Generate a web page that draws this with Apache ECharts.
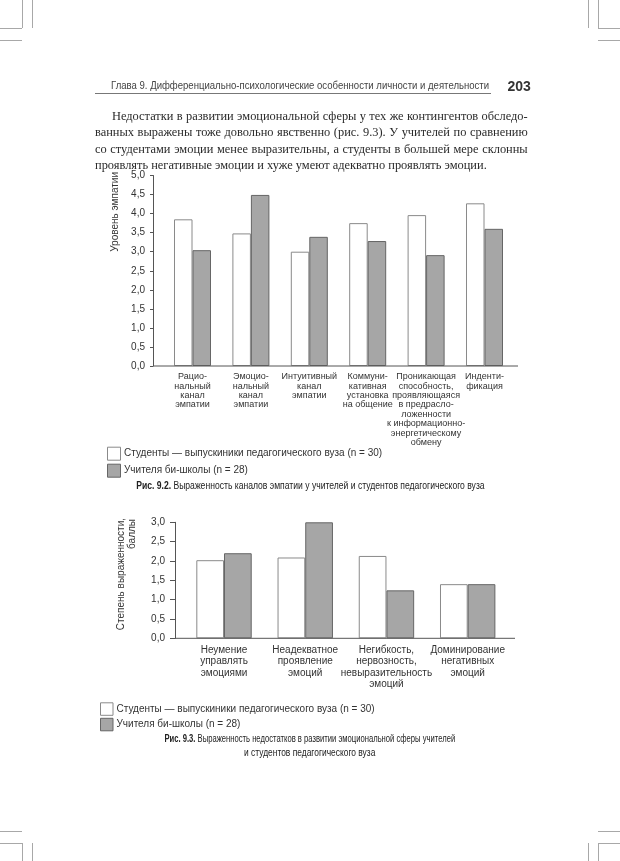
<!DOCTYPE html>
<html>
<head>
<meta charset="utf-8">
<script src="https://cdn.jsdelivr.net/npm/echarts@6/dist/echarts.min.js"></script>
<style>
  html, body { margin: 0; padding: 0; background: #fff; }
  #page { position: relative; width: 620px; height: 861px; overflow: hidden; background: #fff; }
  #chart { position: absolute; left: 0; top: 0; width: 620px; height: 861px; }
  .abs { position: absolute; }
  .crop { position: absolute; background: #a8a8a8; }
  .hdrbox { position: absolute; left: 111px; top: 80px; height: 12px; line-height: 12px; }
  .hdr { font-family: "Liberation Sans", Arial, sans-serif; font-size: 10px; line-height: 12px; color: #444; white-space: nowrap; display: inline-block; vertical-align: top; transform-origin: left center; }
  .pnum { font-family: "Liberation Sans", Arial, sans-serif; font-size: 14px; font-weight: bold; color: #333; }
  .para { font-family: "Liberation Serif", "Times New Roman", serif; font-size: 12.4px; line-height: 16.5px; color: #2a2a2a; width: 432.7px; }
  .para div { text-align: justify; text-align-last: justify; white-space: nowrap; }
  .para div.last { text-align-last: left; }
  .capline { position: absolute; left: 0; width: 620px; text-align: center; height: 14px; line-height: 14px; }
  .capline span { font-family: "Liberation Sans", Arial, sans-serif; font-size: 11.5px; line-height: 14px; color: #222; white-space: nowrap; display: inline-block; vertical-align: top; transform-origin: center center; }
  .capline b { font-weight: bold; }
</style>
</head>
<body>
<div id="page">
  <div id="chart"></div>

  <!-- crop marks -->
  <div class="crop" style="left:0;top:27.5px;width:22px;height:1px"></div>
  <div class="crop" style="left:21.5px;top:0;width:1px;height:28px"></div>
  <div class="crop" style="left:31.5px;top:0;width:1px;height:28px"></div>
  <div class="crop" style="left:0;top:40px;width:22px;height:1px"></div>
  <div class="crop" style="left:597.5px;top:27.5px;width:23px;height:1px"></div>
  <div class="crop" style="left:597.5px;top:0;width:1px;height:28px"></div>
  <div class="crop" style="left:587.5px;top:0;width:1px;height:28px"></div>
  <div class="crop" style="left:597.5px;top:40px;width:23px;height:1px"></div>
  <div class="crop" style="left:0;top:830.5px;width:22px;height:1px"></div>
  <div class="crop" style="left:0;top:843px;width:22px;height:1px"></div>
  <div class="crop" style="left:21.5px;top:843px;width:1px;height:18px"></div>
  <div class="crop" style="left:31.5px;top:843px;width:1px;height:18px"></div>
  <div class="crop" style="left:597.5px;top:830.5px;width:23px;height:1px"></div>
  <div class="crop" style="left:597.5px;top:843px;width:23px;height:1px"></div>
  <div class="crop" style="left:597.5px;top:843px;width:1px;height:18px"></div>
  <div class="crop" style="left:587.5px;top:843px;width:1px;height:18px"></div>

  <!-- running head -->
  <div class="hdrbox"><span class="hdr fit" data-w="378">Глава 9. Дифференциально-психологические особенности личности и деятельности</span></div>
  <div class="abs" style="left:95px;top:93px;width:396px;height:1px;background:#777;"></div>
  <div class="abs pnum" style="left:507.5px;top:78px;">203</div>

  <!-- paragraph -->
  <div class="abs para" style="left:95px;top:107.7px;">
    <div style="padding-left:17px;">Недостатки в развитии эмоциональной сферы у тех же контингентов обследо-</div>
    <div>ванных выражены тоже довольно явственно (рис. 9.3). У учителей по сравнению</div>
    <div>со студентами эмоции менее выразительны, а студенты в большей мере склонны</div>
    <div class="last">проявлять негативные эмоции и хуже умеют адекватно проявлять эмоции.</div>
  </div>

  <!-- captions -->
  <div class="capline" style="top:477.5px;"><span class="fit" data-w="348.6"><b>Рис. 9.2.</b> Выраженность каналов эмпатии у учителей и студентов педагогического вуза</span></div>
  <div class="capline" style="top:730.5px;"><span class="fit" data-w="291"><b>Рис. 9.3.</b> Выраженность недостатков в развитии эмоциональной сферы учителей</span></div>
  <div class="capline" style="top:745px;"><span class="fit" data-w="131">и студентов педагогического вуза</span></div>
</div>

<script>
// ---------- data ----------
const seriesNames = [
  'Студенты — выпускиники педагогического вуза (n = 30)',
  'Учителя би-школы (n = 28)'
];

// Figure 9.2
const categories1 = [
  'Рацио-\nнальный\nканал\nэмпатии',
  'Эмоцио-\nнальный\nканал\nэмпатии',
  'Интуитивный\nканал\nэмпатии',
  'Коммуни-\nкативная\nустановка\nна общение',
  'Проникающая\nспособность,\nпроявляющаяся\nв предрасло-\nложенности\nк информационно-\nэнергетическому\nобмену',
  'Инденти-\nфикация'
];
const students1 = [3.85, 3.48, 3.0, 3.75, 3.96, 4.27];
const teachers1 = [3.04, 4.49, 3.39, 3.28, 2.91, 3.6];
const yMin1 = 0, yMax1 = 5, yStep1 = 0.5;
const yName1 = 'Уровень эмпатии';

// Figure 9.3
const categories2 = [
  'Неумение\nуправлять\nэмоциями',
  'Неадекватное\nпроявление\nэмоций',
  'Негибкость,\nнервозность,\nневыразительность\nэмоций',
  'Доминирование\nнегативных\nэмоций'
];
const students2 = [2.02, 2.09, 2.13, 1.4];
const teachers2 = [2.2, 3.0, 1.24, 1.4];
const yMin2 = 0, yMax2 = 3, yStep2 = 0.5;
const yName2 = ['Степень выраженности,', 'баллы'];

// ---------- fit condensed text lines (after fonts are ready) ----------
function fitAll() {
  document.querySelectorAll('.fit').forEach(el => {
    el.style.transform = 'none';
    const w = el.offsetWidth;
    const target = parseFloat(el.dataset.w);
    if (w > 0) el.style.transform = 'scaleX(' + (target / w) + ')';
  });
}
fitAll();
if (document.fonts && document.fonts.ready) document.fonts.ready.then(fitAll);
window.addEventListener('load', fitAll);

// ---------- styles ----------
const FONT = '"Liberation Sans", Arial, sans-serif';
const TEXT = '#333';
const AXIS = '#555';
const whiteStyle = { color: '#ffffff', borderColor: '#8a8a8a', borderWidth: 1 };
const grayStyle = { color: '#a6a6a6', borderColor: '#666666', borderWidth: 1 };
const fmt = v => v.toFixed(1).replace('.', ',');

const chart = echarts.init(document.getElementById('chart'), null, { renderer: 'canvas' });

function yAxisCfg(gridIndex, min, max, step, offset, tickLen, margin) {
  return {
    type: 'value', gridIndex, min, max, interval: step, offset,
    axisLine: { show: true, lineStyle: { color: AXIS, width: 1 } },
    axisTick: { show: true, inside: false, length: tickLen, lineStyle: { color: AXIS, width: 1 } },
    axisLabel: { color: TEXT, fontFamily: FONT, fontSize: 10, margin, formatter: fmt },
    splitLine: { show: false }
  };
}
function xAxisCfg(gridIndex, data, fontSize, lineHeight) {
  return {
    type: 'category', gridIndex, data,
    axisLine: { show: false },
    axisTick: { show: false },
    axisLabel: { interval: 0, color: TEXT, fontFamily: FONT, fontSize, lineHeight, margin: 6, align: 'center' },
    splitLine: { show: false }
  };
}
function legendCfg(left, top, size, gap) {
  return {
    orient: 'vertical', left, top, itemWidth: size, itemHeight: size, itemGap: gap,
    icon: 'rect', selectedMode: false,
    textStyle: { color: TEXT, fontFamily: FONT, fontSize: 10, padding: [0, 0, 0, -1.5] },
    data: [
      { name: seriesNames[0], itemStyle: whiteStyle },
      { name: seriesNames[1], itemStyle: grayStyle }
    ]
  };
}

const option = {
  animation: false,
  backgroundColor: 'transparent',
  grid: [
    { left: 163.3, top: 175.5, width: 350.4, height: 190.5, containLabel: false },
    { left: 183.4, top: 522.3, width: 324.9, height: 116, containLabel: false }
  ],
  xAxis: [
    xAxisCfg(0, categories1, 9, 9.4),
    xAxisCfg(1, categories2, 10, 11.4)
  ],
  yAxis: [
    yAxisCfg(0, yMin1, yMax1, yStep1, 10.3, 3, 8),
    yAxisCfg(1, yMin2, yMax2, yStep2, 8.4, 5, 10)
  ],
  legend: [
    legendCfg(102, 441.7, 13, 3),
    legendCfg(95, 697.3, 12.5, 2)
  ],
  series: [
    { type: 'bar', name: seriesNames[0], xAxisIndex: 0, yAxisIndex: 0, data: students1, barWidth: 18.5, barGap: '0%', itemStyle: whiteStyle, emphasis: { disabled: true } },
    { type: 'bar', name: seriesNames[1], xAxisIndex: 0, yAxisIndex: 0, data: teachers1, barWidth: 18.5, barGap: '0%', itemStyle: grayStyle, emphasis: { disabled: true } },
    { type: 'bar', name: seriesNames[0], xAxisIndex: 1, yAxisIndex: 1, data: students2, barWidth: 27.7, barGap: '0%', itemStyle: whiteStyle, emphasis: { disabled: true } },
    { type: 'bar', name: seriesNames[1], xAxisIndex: 1, yAxisIndex: 1, data: teachers2, barWidth: 27.7, barGap: '0%', itemStyle: grayStyle, emphasis: { disabled: true } }
  ],
  graphic: [
    { type: 'line', shape: { x1: 153, y1: 366, x2: 518, y2: 366 }, style: { stroke: AXIS, lineWidth: 1 }, z: 10 },
    { type: 'line', shape: { x1: 175, y1: 638.3, x2: 515, y2: 638.3 }, style: { stroke: AXIS, lineWidth: 1 }, z: 10 },
    { type: 'text', x: 115, y: 172, rotation: Math.PI / 2,
      style: { text: yName1, fill: TEXT, font: '10px ' + FONT, align: 'right', verticalAlign: 'middle' } },
    { type: 'text', x: 121.5, y: 518, rotation: Math.PI / 2,
      style: { text: yName2[0], fill: TEXT, font: '10px ' + FONT, align: 'right', verticalAlign: 'middle' } },
    { type: 'text', x: 132.5, y: 519, rotation: Math.PI / 2,
      style: { text: yName2[1], fill: TEXT, font: '10px ' + FONT, align: 'right', verticalAlign: 'middle' } }
  ]
};
chart.setOption(option);
</script>
</body>
</html>
